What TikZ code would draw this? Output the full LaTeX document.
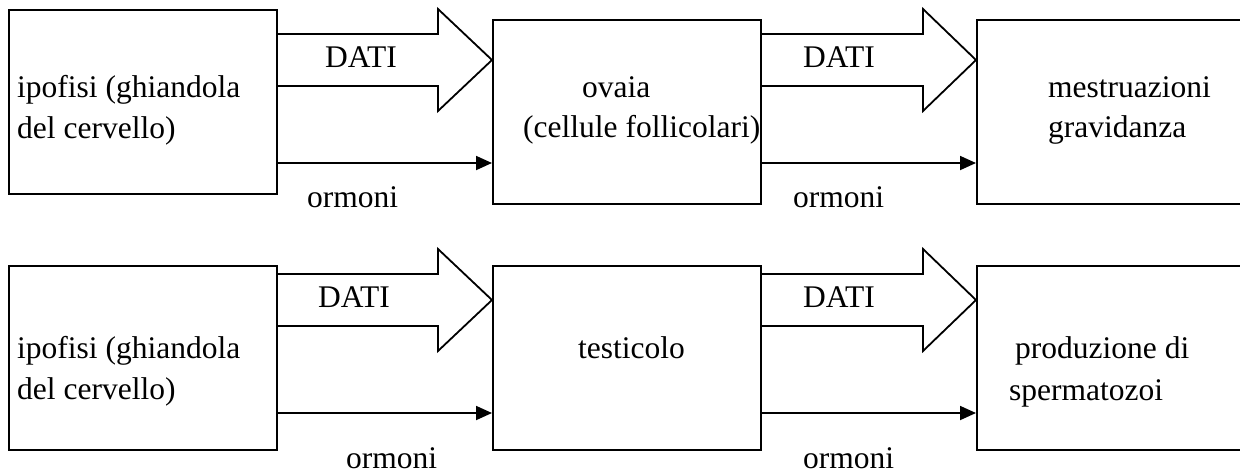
\documentclass[tikz,border=0pt]{standalone}
\usepackage{fontspec}
\setmainfont{Liberation Serif}
\usetikzlibrary{arrows.meta,calc}
\tikzset{
  box/.style={draw, line width=1.8pt, rectangle, inner sep=0pt, anchor=north west},
  lbl/.style={inner sep=0pt, anchor=base west, font=\fontsize{31.5}{41}\selectfont},
  fat/.style={draw, line width=1.8pt, line join=miter},
  thin/.style={draw, line width=1.8pt, -{Triangle[length=16pt,width=14pt]}},
}
\begin{document}
\begin{tikzpicture}[x=1pt,y=-1pt]
\useasboundingbox (0,0) rectangle (1240,472);
\clip (0,0) rectangle (1240,472);
% ---- row 1 ----
\node[box, minimum width=268pt, minimum height=184pt] (a1) at (8,9) {};
\node[box, minimum width=268pt, minimum height=184pt] (a2) at (492,19) {};
\node[box, minimum width=300pt, minimum height=184pt] (a3) at (976,19) {};
\node[lbl] (a1t1) at (17,97) {ipofisi (ghiandola};
\node[lbl] (a1t2) at (17,138) {del cervello)};
\node[lbl] (a2t1) at (582,97) {ovaia};
\node[lbl] (a2t2) at (523,137) {(cellule follicolari)};
\node[lbl] (a3t1) at (1048,97) {mestruazioni};
\node[lbl] (a3t2) at (1048,137) {gravidanza};
\node[lbl] (ad1) at (325,67) {DATI};
\node[lbl] (ad2) at (803,67) {DATI};
\node[lbl] (ao1) at (307,207) {ormoni};
\node[lbl] (ao2) at (793,207) {ormoni};
% fat arrows row 1 (centre y = 60)
\draw[fat] (a1.east |- 0,34) -- (438,34) -- (438,9) -- (a2.west |- 0,60) -- (438,111) -- (438,86) -- (a1.east |- 0,86);
\draw[fat] (a2.east |- 0,34) -- (923,34) -- (923,9) -- (a3.west |- 0,60) -- (923,111) -- (923,86) -- (a2.east |- 0,86);
% thin arrows row 1
\draw[thin] (a1.east |- 0,163) -- (a2.west |- 0,163);
\draw[thin] (a2.east |- 0,163) -- (a3.west |- 0,163);
% ---- row 2 ----
\node[box, minimum width=268pt, minimum height=184pt] (b1) at (8,265) {};
\node[box, minimum width=268pt, minimum height=184pt] (b2) at (492,265) {};
\node[box, minimum width=300pt, minimum height=184pt] (b3) at (976,265) {};
\node[lbl] (b1t1) at (17,358) {ipofisi (ghiandola};
\node[lbl] (b1t2) at (17,399) {del cervello)};
\node[lbl] (b2t1) at (578,358) {testicolo};
\node[lbl] (b3t1) at (1015,358) {produzione di};
\node[lbl] (b3t2) at (1009,400) {spermatozoi};
\node[lbl] (bd1) at (318,307) {DATI};
\node[lbl] (bd2) at (803,307) {DATI};
\node[lbl] (bo1) at (346,468) {ormoni};
\node[lbl] (bo2) at (803,468) {ormoni};
% fat arrows row 2 (centre y = 300)
\draw[fat] (b1.east |- 0,274) -- (438,274) -- (438,249) -- (b2.west |- 0,300) -- (438,351) -- (438,326) -- (b1.east |- 0,326);
\draw[fat] (b2.east |- 0,274) -- (923,274) -- (923,249) -- (b3.west |- 0,300) -- (923,351) -- (923,326) -- (b2.east |- 0,326);
% thin arrows row 2
\draw[thin] (b1.east |- 0,413) -- (b2.west |- 0,413);
\draw[thin] (b2.east |- 0,413) -- (b3.west |- 0,413);
\end{tikzpicture}
\end{document}
